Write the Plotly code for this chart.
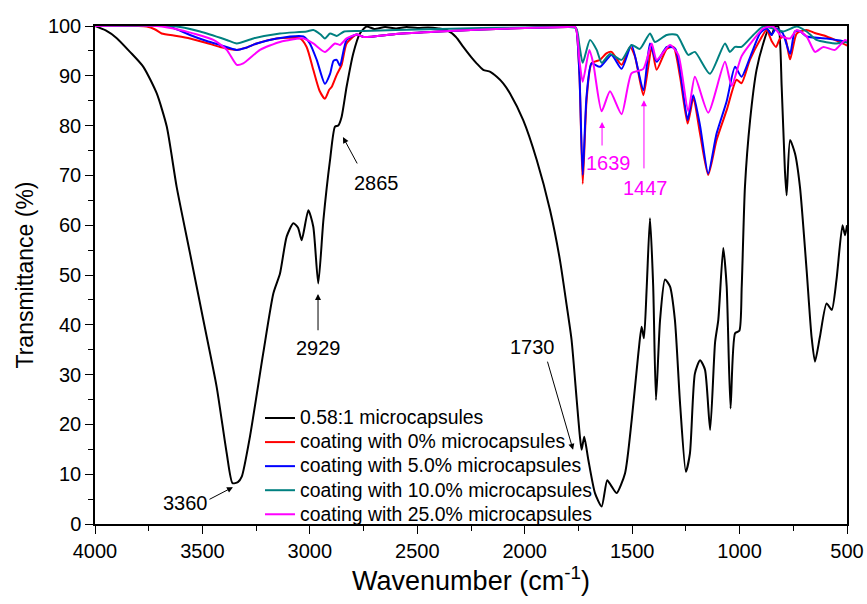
import plotly.graph_objects as go

# ---------------- data ----------------
black_w = [4000, 3950, 3900, 3837, 3775, 3713, 3666, 3620, 3558, 3496, 3434, 3387, 3360, 3335, 3317, 3279,
           3217, 3170, 3139, 3108, 3077, 3055, 3038, 3007, 2984, 2961, 2937, 2906, 2883, 2868, 2852, 2829,
           2798, 2767, 2736, 2700, 2650, 2600, 2550, 2500, 2450, 2400, 2363, 2320, 2286, 2250, 2224, 2193,
           2160, 2130, 2100, 2069, 2007, 1944, 1882, 1836, 1805, 1782, 1758, 1743, 1735, 1723, 1704, 1673,
           1642, 1616, 1595, 1572, 1533, 1502, 1471, 1456, 1445, 1432, 1417, 1402, 1389, 1370, 1347, 1324,
           1301, 1277, 1250, 1231, 1208, 1184, 1161, 1137, 1114, 1099, 1076, 1060, 1042, 1021, 1001, 990,
           975, 951, 921, 890, 867, 851, 835, 820, 804, 789, 781, 765, 742, 719, 688, 665, 649, 626, 595,
           571, 549, 521, 509, 500]
black_t = [100, 99.1, 97.6, 94.8, 91.8, 86.5, 79.8, 67.7, 54.4, 41, 27.6, 14.2, 8.2, 8.4, 9.5, 17.5,
           34.3, 46.3, 50.3, 57.7, 60.4, 59.5, 57, 63, 59.7, 48.3, 61, 73.1, 79.8, 80, 81.8, 87.8,
           94.5, 98.5, 99.9, 99.4, 99.8, 99.5, 99.8, 99.6, 99.7, 99.5, 99.2, 97.8, 95.8, 93.8, 92.5, 91.2,
           90.8, 89.8, 88.5, 86.5, 81.1, 73.1, 63, 53, 44, 37, 24.9, 17.5, 14.9, 17.5, 12.9, 6.2,
           3.5, 8.8, 7.5, 6.2, 10.2, 20.9, 34.3, 39.6, 37.3, 47.7, 61.4, 47.7, 24.9, 41, 49.1, 47.7,
           41, 24.2, 10.5, 14.2, 30.2, 32.9, 31, 18.9, 36.5, 41, 55.4, 47.7, 23.2, 38.3, 38.8, 47.7,
           67.7, 81.1, 91.2, 96.5, 99.2, 98.2, 99.9, 99.9, 87.8, 71, 66, 77.1, 74.4, 67.7, 51, 37.6, 32.6, 37.6, 44.3,
           43, 49, 60, 58, 60]

red_w = [4000, 3800, 3760, 3720, 3690, 3620, 3558, 3480, 3418, 3340, 3300, 3247, 3154, 3046, 3015, 2984,
         2955, 2930, 2910, 2898, 2875, 2852, 2829, 2782, 2750, 2600, 2400, 2200, 2000, 1800, 1765, 1758,
         1745, 1730, 1712, 1689, 1650, 1620, 1596, 1549, 1510, 1487, 1448, 1425, 1409, 1386, 1339, 1308,
         1277, 1242, 1228, 1215, 1184, 1146, 1107, 1060, 1014, 991, 952, 905, 874, 851, 830, 812, 790,
         765, 734, 688, 650, 595, 505, 500]
red_t = [100, 100, 99.9, 99.3, 98.5, 98, 97.5, 96.6, 95.8, 95.2, 95.6, 96.5, 97.5, 97.5, 95.8, 91.2,
         87, 85.4, 87.2, 87.8, 90.2, 92.2, 96.5, 98.3, 97.8, 98.4, 98.9, 99.3, 99.6, 99.8, 99.8, 99,
         90, 68.3, 85.1, 92.5, 93.2, 94.5, 94.8, 92.2, 95.8, 93.9, 86.1, 91.8, 95.8, 91.2, 95.4, 95.8,
         89.8, 80.4, 83, 85.7, 78.4, 70.1, 77.1, 83.1, 89.2, 88.5, 93.2, 97.2, 99.2, 97, 95.8, 97.5, 97.9,
         93.3, 98.5, 99.2, 98.6, 97.9, 96.2, 96]

blue_w = [4000, 3666, 3600, 3558, 3480, 3418, 3340, 3300, 3247, 3154, 3030, 3000, 2968, 2930, 2906, 2890,
          2875, 2860, 2829, 2782, 2750, 2600, 2400, 2200, 2000, 1800, 1765, 1758, 1745, 1730, 1712, 1689,
          1650, 1596, 1549, 1503, 1448, 1417, 1386, 1339, 1300, 1277, 1242, 1228, 1215, 1184, 1146, 1107,
          1060, 1021, 991, 945, 905, 874, 851, 830, 800, 765, 743, 720, 688, 595, 505, 500]
blue_t = [100, 100, 99, 98.2, 97, 96.2, 95.2, 95.6, 96.5, 97.5, 97.9, 96.5, 93.2, 88.4, 90.4, 93,
          93.2, 92, 97.2, 98.3, 97.8, 98.4, 98.9, 99.3, 99.6, 99.8, 99.8, 99, 90, 70.1, 86, 92.5,
          91.8, 94.2, 91.4, 96.2, 87.1, 96.5, 92.8, 95.8, 95.5, 91, 81.1, 84, 86.1, 80, 70.4, 78.4,
          84.9, 91.8, 89.8, 94.4, 98.5, 99.5, 98.2, 99.5, 98.6, 94.4, 98.9, 99, 97.9, 97.5, 96.8, 96.6]

teal_w = [4000, 3636, 3511, 3387, 3340, 3263, 3139, 3015, 2984, 2950, 2930, 2906, 2875, 2840, 2750, 2600,
          2400, 2200, 2000, 1800, 1760, 1745, 1730, 1696, 1665, 1642, 1603, 1549, 1503, 1464, 1417, 1394,
          1339, 1292, 1239, 1208, 1138, 1068, 1045, 1021, 991, 936, 890, 844, 797, 734, 688, 642, 549,
          505, 500]
teal_t = [100, 100, 98.9, 97.2, 96.5, 97.5, 98.5, 98.9, 99.2, 98.3, 97.5, 98.5, 98, 98.9, 99, 99.2,
          99.4, 99.6, 99.7, 99.8, 99.5, 96, 92.6, 97.2, 95.2, 92.6, 94.4, 93.2, 96.2, 95.4, 98.5, 96.8,
          98.2, 98.2, 94.2, 94.8, 90.4, 96.5, 94.8, 95.8, 95.8, 98.2, 99.9, 99.5, 98.9, 99.9, 98.9, 97.2, 96.5,
          96.8, 96.6]

mag_w = [4000, 3713, 3604, 3449, 3387, 3340, 3310, 3232, 3139, 3030, 2984, 2930, 2883, 2860, 2829, 2782,
         2750, 2600, 2400, 2200, 2000, 1800, 1765, 1755, 1745, 1730, 1699, 1681, 1642, 1603, 1549, 1503,
         1448, 1409, 1386, 1324, 1285, 1239, 1208, 1146, 1068, 1037, 991, 936, 890, 844, 804, 765, 734,
         688, 649, 610, 556, 509, 500]
mag_t = [100, 100, 99.2, 97.2, 95.2, 92.2, 92.5, 95.2, 96.8, 97.5, 96.5, 94.8, 96.5, 96.2, 97.5, 98.3,
         97.8, 98.4, 98.9, 99.3, 99.6, 99.8, 99.8, 98, 93, 88.8, 95.2, 92.5, 82.9, 86.9, 82.3, 90.5,
         91.4, 96.5, 93.2, 96.2, 94.2, 82.9, 89.8, 82.6, 92.8, 88, 93.9, 97.2, 99.5, 99.9, 97.9, 97.5, 99.2,
         97.9, 94.8, 95.8, 95.2, 97.2, 97]

series_names = ["0.58:1 microcapsules", "coating with 0% microcapsules", "coating with 5.0% microcapsules",
                "coating with 10.0% microcapsules", "coating with 25.0% microcapsules"]
series_colors = ["#000000", "#FF0000", "#0000FF", "#008080", "#FF00FF"]
series_x = [black_w, red_w, blue_w, teal_w, mag_w]
series_y = [black_t, red_t, blue_t, teal_t, mag_t]

x_ticks = [4000, 3500, 3000, 2500, 2000, 1500, 1000, 500]
y_ticks = [0, 10, 20, 30, 40, 50, 60, 70, 80, 90, 100]

# peak labels: (text, text_x, text_y, tail_x, tail_y, tip_x, tip_y, color)
peak_labels = [
    ("3360", 3581, 4.2, 3474, 4.8, 3358, 7.4, "#000000"),
    ("2929", 2962, 35.3, 2962, 38.6, 2962, 46.2, "#000000"),
    ("2865", 2690, 68.5, 2776, 72.1, 2846, 77.7, "#000000"),
    ("1730", 1966, 35.5, 1896, 32.9, 1775, 14.9, "#000000"),
    ("1639", 1612, 72.5, 1640, 75.7, 1640, 80.7, "#FF00FF"),
    ("1447", 1440, 67.5, 1445, 71.1, 1445, 85.1, "#FF00FF"),
]

FONT = "Arial, Liberation Sans, sans-serif"

fig = go.Figure()
for name, col, xs, ys in zip(series_names, series_colors, series_x, series_y):
    fig.add_trace(go.Scatter(x=xs, y=ys, mode="lines",
                             name='<span style="font-size:19.4px">' + name + '</span>',
                             line=dict(color=col, width=2, shape="spline", smoothing=0.6)))

annotations = []
for txt, tx, ty, ax_, ay_, px, py, col in peak_labels:
    annotations.append(dict(x=tx, y=ty, xref="x", yref="y", text=txt, showarrow=False,
                            font=dict(family=FONT, size=20, color=col)))
    annotations.append(dict(x=px, y=py, xref="x", yref="y", ax=ax_, ay=ay_, axref="x", ayref="y",
                            text="", showarrow=True, arrowhead=2, arrowsize=1.2, arrowwidth=1,
                            arrowcolor=col, standoff=0, startstandoff=0))

fig.update_layout(
    width=867, height=604,
    margin=dict(l=95, r=20, t=26, b=80),
    paper_bgcolor="white", plot_bgcolor="white",
    font=dict(family=FONT, size=20, color="black"),
    showlegend=True,
    legend=dict(x=0.2194, y=0.247, xanchor="left", yanchor="top", bgcolor="rgba(0,0,0,0)",
                font=dict(family=FONT, size=16.2, color="black"), tracegroupgap=0,
                borderwidth=0),
    annotations=annotations,
)
fig.update_xaxes(range=[4000, 500], tickvals=x_ticks, ticktext=[str(v) for v in x_ticks],
                 ticks="outside", ticklen=8, tickwidth=1.2, tickcolor="black",
                 minor=dict(dtick=250, ticks="outside", ticklen=5, tickcolor="black", tick0=0),
                 showline=True, linecolor="black", linewidth=1.5, mirror=True,
                 showgrid=False, zeroline=False, automargin=False,
                 title=dict(text="Wavenumber (cm<sup>-1</sup>)", font=dict(family=FONT, size=27), standoff=2),
                 tickfont=dict(family=FONT, size=20))
fig.update_yaxes(range=[0, 100], tickvals=y_ticks, ticks="outside", ticklen=8, tickwidth=1.2,
                 tickcolor="black",
                 minor=dict(dtick=5, ticks="outside", ticklen=5, tickcolor="black", tick0=0),
                 showline=True, linecolor="black", linewidth=1.5, mirror=True,
                 showgrid=False, zeroline=False, automargin=False,
                 title=dict(text="Transmittance (%)", font=dict(family=FONT, size=23), standoff=8),
                 tickfont=dict(family=FONT, size=20))

fig.write_html("out.html")
